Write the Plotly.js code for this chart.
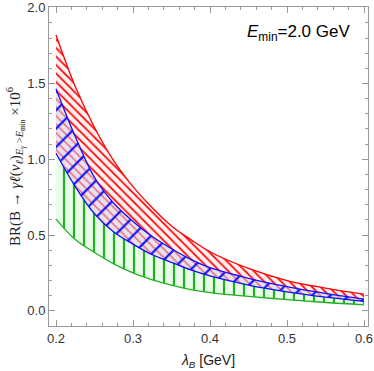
<!DOCTYPE html>
<html>
<head>
<meta charset="utf-8">
<script src="https://cdn.plot.ly/plotly-3.0.1.min.js"></script>
<style>
  html, body { margin: 0; padding: 0; background: #fff; }
  #chart { width: 374px; height: 371px; }
</style>
</head>
<body>
<div id="chart"></div>
<script>
var lambdaB = [0.2, 0.225, 0.25, 0.275, 0.3, 0.325, 0.35, 0.375, 0.4, 0.45, 0.5, 0.55, 0.6];

// red band (upper / lower edge)
var redHi = [1.82, 1.48, 1.21, 0.99, 0.82, 0.68, 0.56, 0.47, 0.39, 0.28, 0.20, 0.15, 0.11];
var redLo = [1.04, 0.82, 0.64, 0.52, 0.44, 0.37, 0.32, 0.27, 0.23, 0.17, 0.125, 0.09, 0.062];

// blue band
var blueHi = [1.466, 1.15, 0.88, 0.71, 0.59, 0.49, 0.41, 0.34, 0.285, 0.215, 0.16, 0.115, 0.078];
var blueLo = [1.04, 0.82, 0.64, 0.52, 0.44, 0.37, 0.32, 0.27, 0.23, 0.17, 0.125, 0.09, 0.062];

// green band
var greenHi = [1.16, 0.89, 0.71, 0.57, 0.48, 0.40, 0.345, 0.29, 0.245, 0.183, 0.135, 0.097, 0.067];
var greenLo = [0.605, 0.47, 0.385, 0.31, 0.25, 0.205, 0.17, 0.14, 0.12, 0.095, 0.074, 0.055, 0.04];

var RED = '#ff0000', BLUE = '#1010ff', GREEN = '#22b022';

function edge(y, color, width) {
    return {
        x: lambdaB, y: y, type: 'scatter', mode: 'lines',
        line: {color: color, width: width, shape: 'spline'},
        hoverinfo: 'skip', showlegend: false
    };
}

function band(y, color, width, pattern) {
    var t = edge(y, color, width);
    t.fill = 'tonexty';
    t.fillpattern = pattern;
    return t;
}

var data = [
    edge(greenLo, GREEN, 1.3),
    band(greenHi, 'rgba(0,0,0,0)', 0,
        {shape: '|', size: 10, solidity: 0.22, fgcolor: GREEN, bgcolor: 'rgba(230,253,230,0.9)'}),
    edge(redLo, 'rgba(0,0,0,0)', 0),
    band(redHi, RED, 1.3,
        {shape: '\\', size: 6, solidity: 0.28, fgcolor: RED, bgcolor: 'rgba(255,240,240,0.9)'}),
    edge(blueLo, BLUE, 1.3),
    band(blueHi, BLUE, 1.3,
        {shape: '/', size: 13, solidity: 0.17, fgcolor: BLUE, bgcolor: 'rgba(215,215,240,0.55)'})
];

var axisCommon = {
    showgrid: false, zeroline: false,
    showline: true, linecolor: '#999', linewidth: 1,
    mirror: 'ticks', ticks: 'inside', ticklen: 6, tickcolor: '#999', tickwidth: 1,
    tickfont: {family: 'Liberation Sans, Arial, sans-serif', size: 13, color: '#333'}
};

var layout = {
    width: 374, height: 371,
    margin: {l: 49, r: 6, t: 7, b: 45},
    paper_bgcolor: '#fff', plot_bgcolor: '#fff',
    showlegend: false,
    xaxis: Object.assign({}, axisCommon, {
        range: [0.1909, 0.6052],
        tickvals: [0.2, 0.3, 0.4, 0.5, 0.6],
        ticktext: ['0.2', '0.3', '0.4', '0.5', '0.6'],
        minor: {dtick: 0.02, tick0: 0.2, ticks: 'inside', ticklen: 3, tickcolor: '#999'},
        title: {text: '<i>λ<sub>B</sub></i> [GeV]', standoff: 10,
            font: {family: 'Liberation Sans, Arial, sans-serif', size: 14, color: '#222'}}
    }),
    yaxis: Object.assign({}, axisCommon, {
        range: [-0.1, 2.005],
        tickvals: [0, 0.5, 1.0, 1.5, 2.0],
        ticktext: ['0.0', '0.5', '1.0', '1.5', '2.0'],
        minor: {dtick: 0.1, tick0: 0, ticks: 'inside', ticklen: 3, tickcolor: '#999'},
        title: {text: 'BR(B → <i>γℓ</i>(<i>ν<sub>ℓ</sub></i>)<sub><i>E<sub>γ</sub></i> &gt;<i>E</i><sub>min</sub></sub> ×10<sup>6</sup>',
            standoff: 3,
            font: {family: 'Liberation Serif, Times New Roman, serif', size: 15, color: '#222'}}
    }),
    annotations: [{
        xref: 'paper', yref: 'paper', x: 0.95, y: 0.92, xanchor: 'right', yanchor: 'middle',
        showarrow: false,
        text: '<i>E</i><sub>min</sub>=2.0 GeV',
        font: {family: 'Liberation Sans, Arial, sans-serif', size: 17, color: '#000'}
    }]
};

Plotly.newPlot('chart', data, layout, {displayModeBar: false, staticPlot: true});
</script>
</body>
</html>
